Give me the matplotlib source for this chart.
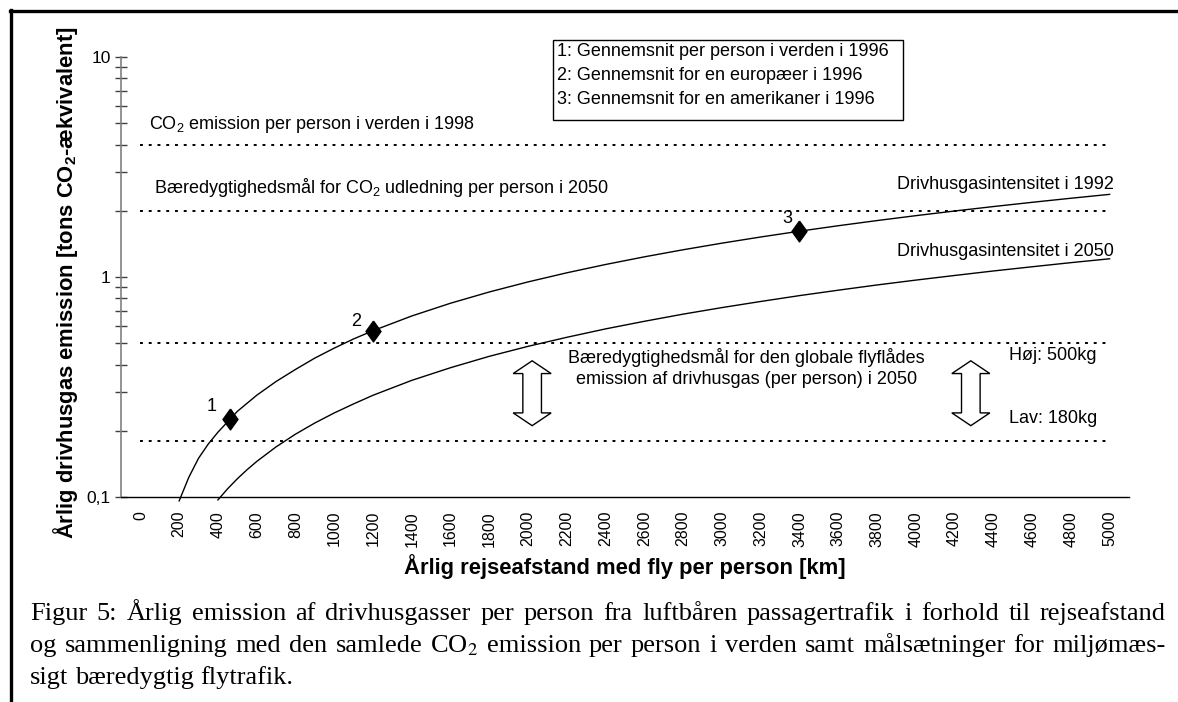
import math
import matplotlib
matplotlib.use("Agg")
import matplotlib.pyplot as plt
from matplotlib.patches import Polygon, Rectangle
from matplotlib.lines import Line2D
from matplotlib.ticker import FixedLocator, NullFormatter

plt.rcParams['font.family'] = ['Liberation Sans', 'DejaVu Sans']
plt.rcParams['mathtext.fontset'] = 'custom'
plt.rcParams['mathtext.rm'] = 'Liberation Sans'
plt.rcParams['mathtext.bf'] = 'Liberation Sans:bold'
plt.rcParams['mathtext.it'] = 'Liberation Sans:italic'

# ---------------- data ----------------
x_ticks = [0, 200, 400, 600, 800, 1000, 1200, 1400, 1600, 1800, 2000, 2200, 2400,
           2600, 2800, 3000, 3200, 3400, 3600, 3800, 4000, 4200, 4400, 4600, 4800, 5000]
x_tick_labels = [str(v) for v in x_ticks]
y_ticks = [0.1, 1, 10]
y_tick_labels = ['0,1', '1', '10']

km_1992 = [200, 250, 300, 350, 400, 500, 600, 700, 800, 900, 1000, 1100, 1200, 1400,
           1600, 1800, 2000, 2200, 2400, 2600, 2800, 3000, 3200, 3400, 3600, 3800, 4000,
           4200, 4400, 4600, 4800, 5000]
intensity_1992 = [0.096, 0.123, 0.15, 0.174, 0.197, 0.245, 0.29, 0.335, 0.38, 0.428,
                  0.475, 0.523, 0.57, 0.665, 0.76, 0.855, 0.95, 1.045, 1.14, 1.235, 1.33,
                  1.425, 1.52, 1.615, 1.71, 1.805, 1.90, 1.995, 2.09, 2.185, 2.28, 2.375]

km_2050 = [400, 450, 500, 550, 600, 700, 800, 900, 1000, 1100, 1200, 1400, 1600, 1800,
           2000, 2200, 2400, 2600, 2800, 3000, 3200, 3400, 3600, 3800, 4000, 4200, 4400,
           4600, 4800, 5000]
intensity_2050 = [0.097, 0.109, 0.121, 0.133, 0.145, 0.169, 0.193, 0.217, 0.241, 0.265,
                  0.29, 0.339, 0.387, 0.436, 0.484, 0.532, 0.581, 0.629, 0.678, 0.726,
                  0.774, 0.823, 0.871, 0.92, 0.968, 1.016, 1.065, 1.113, 1.162, 1.21]

point_km = [460, 1200, 3400]
point_val = [0.226, 0.57, 1.62]
point_labels = ['1', '2', '3']

ref_levels = [4, 2, 0.5, 0.18]

legend_lines = ['1: Gennemsnit per person i verden i 1996',
                '2: Gennemsnit for en europæer i 1996',
                '3: Gennemsnit for en amerikaner i 1996']

caption_lines = [
    'Figur 5: Årlig emission af drivhusgasser per person fra luftbåren passagertrafik i forhold til rejseafstand',
    'og sammenligning med den samlede CO$_2$ emission per person i verden samt målsætninger for miljømæs-',
    'sigt bæredygtig flytrafik.']

# ---------------- figure ----------------
W, H = 1178, 702
fig = plt.figure(figsize=(W / 100, H / 100), dpi=100)
ax = fig.add_axes([121 / W, 1 - 497 / H, (1129 - 121) / W, (497 - 57) / H])

ax.set_yscale('log')
ax.set_ylim(0.1, 10)
ax.set_xlim(-100, 5100)

FS = 13

# reference dotted lines
for lev in ref_levels:
    ax.hlines(lev, 0, 5000, colors='black', linewidth=1.4, linestyles=(0, (1.5, 3)))

# curves
ax.plot(km_1992, intensity_1992, color='black', lw=1.0, clip_on=False)
ax.plot(km_2050, intensity_2050, color='black', lw=1.0, clip_on=False)

diamond = [(0, 1), (0.72, 0), (0, -1), (-0.72, 0), (0, 1)]
ax.plot(point_km, point_val, linestyle='none', marker=diamond, markersize=15,
        color='black', zorder=5)
label_pos = [(367, 0.257), (1111, 0.625), (3338, 1.85)]
for lab, (lx, ly) in zip(point_labels, label_pos):
    ax.text(lx, ly, lab, fontsize=FS, ha='center', va='center')

# axes styling
for s in ['top', 'right']:
    ax.spines[s].set_visible(False)
ax.spines['left'].set_color('#808080')
ax.spines['left'].set_linewidth(1.2)
ax.spines['bottom'].set_color('black')
ax.spines['bottom'].set_linewidth(1.0)

ax.set_xticks(x_ticks)
ax.set_xticklabels(x_tick_labels, rotation=90, fontsize=11.5)
ax.tick_params(axis='x', length=0, pad=10)

ax.yaxis.set_major_locator(FixedLocator(y_ticks))
ax.set_yticklabels(y_tick_labels, fontsize=12.5)
ax.yaxis.set_minor_locator(FixedLocator([0.2, 0.3, 0.4, 0.5, 0.6, 0.7, 0.8, 0.9,
                                         2, 3, 4, 5, 6, 7, 8, 9]))
ax.yaxis.set_minor_formatter(NullFormatter())
ax.tick_params(axis='y', which='both', direction='inout', length=9, width=1.0,
               color='#404040', pad=3)

# labels
fig.text(66 / W, 1 - 283 / H, 'Årlig drivhusgas emission [tons CO$_\\mathbf{2}$-ækvivalent]',
         rotation=90, ha='center', va='center', fontsize=15.8, fontweight='bold')
fig.text(625 / W, 1 - 567 / H, 'Årlig rejseafstand med fly per person [km]',
         ha='center', va='center', fontsize=15.8, fontweight='bold')

# annotations
ax.text(47, 4.95, 'CO$_2$ emission per person i verden i 1998', fontsize=FS, va='center')
ax.text(72, 2.56, 'Bæredygtighedsmål for CO$_2$ udledning per person i 2050', fontsize=FS,
        va='center')
ax.text(5023, 2.64, 'Drivhusgasintensitet i 1992', fontsize=FS, va='center', ha='right')
ax.text(5023, 1.31, 'Drivhusgasintensitet i 2050', fontsize=FS, va='center', ha='right')
ax.text(3127, 0.386, 'Bæredygtighedsmål for den globale flyflådes\nemission af drivhusgas (per person) i 2050',
        fontsize=FS, ha='center', va='center', linespacing=1.3)
ax.text(4481, 0.438, 'Høj: 500kg', fontsize=FS, va='center')
ax.text(4481, 0.227, 'Lav: 180kg', fontsize=FS, va='center')


def double_arrow(xc, y_top, y_bot, shaft_half, head_half, head_len_dec):
    lt, lb = math.log10(y_top), math.log10(y_bot)
    yt2 = 10 ** (lt - head_len_dec)
    yb2 = 10 ** (lb + head_len_dec)
    verts = [(xc, y_top), (xc + head_half, yt2), (xc + shaft_half, yt2),
             (xc + shaft_half, yb2), (xc + head_half, yb2), (xc, y_bot),
             (xc - head_half, yb2), (xc - shaft_half, yb2), (xc - shaft_half, yt2),
             (xc - head_half, yt2)]
    ax.add_patch(Polygon(verts, closed=True, facecolor='white', edgecolor='black',
                         lw=1.0, zorder=4))


double_arrow(2021, 0.416, 0.211, 48, 98, 0.058)
double_arrow(4284, 0.416, 0.211, 48, 98, 0.058)

# legend box
fig.add_artist(Rectangle((553 / W, 1 - 120 / H), (903 - 553) / W, 80 / H,
                         transform=fig.transFigure, facecolor='white',
                         edgecolor='black', lw=1.0))
for i, line in enumerate(legend_lines):
    fig.text(557 / W, 1 - (52 + 23.5 * i) / H, line, fontsize=FS, va='center')

# outer frame lines
fig.add_artist(Line2D([10 / W, 1], [1 - 11 / H, 1 - 11 / H], color='black', lw=2.4,
                      transform=fig.transFigure))
fig.add_artist(Line2D([11 / W, 11 / W], [0, 1 - 10 / H], color='black', lw=2.4,
                      transform=fig.transFigure))

# caption (justified)
CFS = 19
renderer = fig.canvas.get_renderer()
cap_x0, cap_x1 = 30, 1166
cap_base = [620, 652, 684]
sp = fig.text(0, 0, 'a a', fontsize=CFS, family='Liberation Serif')
sp2 = fig.text(0, 0, 'aa', fontsize=CFS, family='Liberation Serif')
space_w = sp.get_window_extent(renderer).width - sp2.get_window_extent(renderer).width
sp.remove()
sp2.remove()
for li, (line, yb) in enumerate(zip(caption_lines, cap_base)):
    words = line.split(' ')
    texts = [fig.text(0, 1 - yb / H, w, fontsize=CFS, family='Liberation Serif',
                      math_fontfamily='stix', va='baseline') for w in words]
    widths = [t.get_window_extent(renderer).width for t in texts]
    if li < len(caption_lines) - 1:
        gap = (cap_x1 - cap_x0 - sum(widths)) / (len(words) - 1)
    else:
        gap = space_w
    x = cap_x0
    for t, w in zip(texts, widths):
        t.set_x(x / W)
        x += w + gap

fig.savefig('out.png', dpi=100)
